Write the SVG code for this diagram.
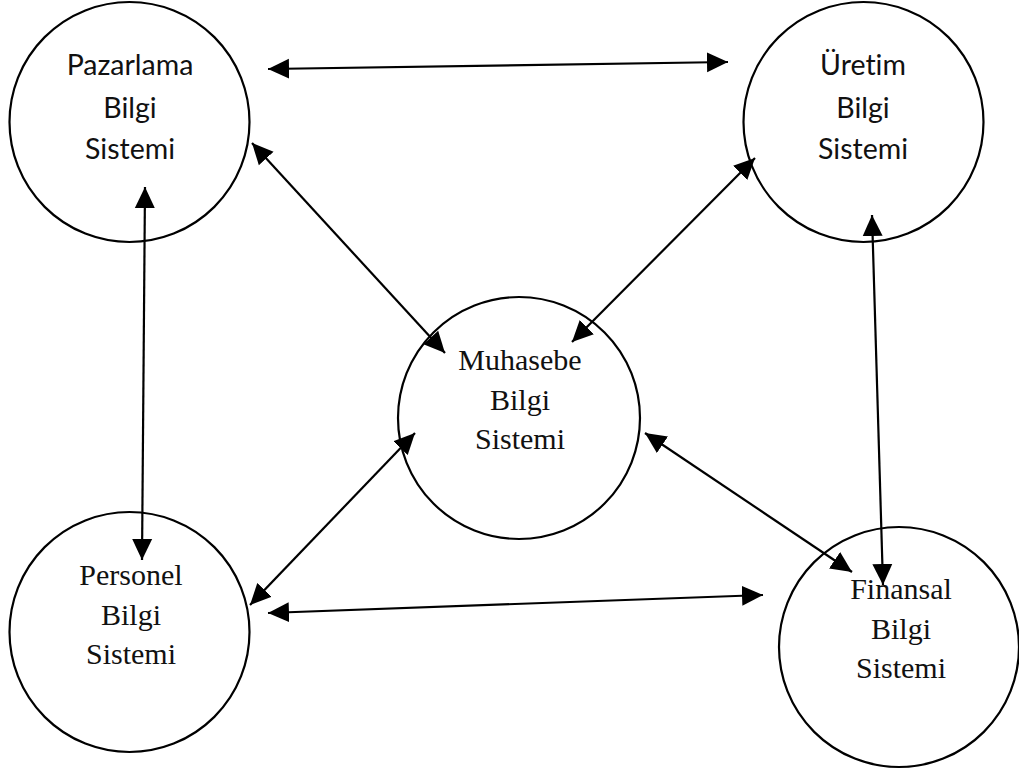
<svg xmlns="http://www.w3.org/2000/svg" width="1019" height="775" viewBox="0 0 1019 775">
  <style>
    .node circle { fill: #fff; stroke: #000; stroke-width: 2.2; }
    .sans { font-family: "Lato", "Open Sans", "Liberation Sans", sans-serif; font-size: 28.5px; fill: #111; text-anchor: middle; font-variant-ligatures: none; }
    .serif { font-family: "Liberation Serif", "DejaVu Serif", serif; font-size: 30px; fill: #111; text-anchor: middle; font-variant-ligatures: none; }
    .link { stroke: #000; stroke-width: 2.2; fill: none; marker-start: url(#head); marker-end: url(#head); }
  </style>
  <defs>
    <marker id="head" markerUnits="userSpaceOnUse" markerWidth="22" markerHeight="21" viewBox="0 0 22 21" refX="21" refY="10.5" orient="auto-start-reverse">
      <path d="M0,0.5 L21,10.5 L0,20.5 z" fill="#000"/>
    </marker>
  </defs>
  <rect width="1019" height="775" fill="#fff"/>

  <g id="pazarlama" class="node">
    <circle cx="129.5" cy="122" r="120"/>
    <text class="sans" x="130" y="75">Pazarlama</text>
    <text class="sans" x="130" y="118">Bilgi</text>
    <text class="sans" x="130" y="159">Sistemi</text>
  </g>

  <g id="uretim" class="node">
    <circle cx="863.5" cy="122" r="120"/>
    <text class="sans" x="863" y="75">Üretim</text>
    <text class="sans" x="863" y="118">Bilgi</text>
    <text class="sans" x="863" y="159">Sistemi</text>
  </g>

  <g id="muhasebe" class="node">
    <circle cx="519" cy="418" r="121"/>
    <text class="serif" x="520" y="370">Muhasebe</text>
    <text class="serif" x="520" y="410">Bilgi</text>
    <text class="serif" x="520" y="449">Sistemi</text>
  </g>

  <g id="personel" class="node">
    <circle cx="129.5" cy="632" r="120"/>
    <text class="serif" x="131" y="585">Personel</text>
    <text class="serif" x="131" y="625">Bilgi</text>
    <text class="serif" x="131" y="664">Sistemi</text>
  </g>

  <g id="finansal" class="node">
    <circle cx="899" cy="647" r="120"/>
    <text class="serif" x="901" y="599">Finansal</text>
    <text class="serif" x="901" y="639">Bilgi</text>
    <text class="serif" x="901" y="678">Sistemi</text>
  </g>

  <g id="connectors">
    <line class="link" x1="268" y1="69" x2="728" y2="62"/>
    <line class="link" x1="145" y1="187" x2="142" y2="560"/>
    <line class="link" x1="252" y1="143" x2="445" y2="353"/>
    <line class="link" x1="755" y1="158" x2="572" y2="342"/>
    <line class="link" x1="872" y1="215" x2="883" y2="585"/>
    <line class="link" x1="415" y1="433" x2="250" y2="605"/>
    <line class="link" x1="268" y1="613" x2="763" y2="595"/>
    <line class="link" x1="645" y1="433" x2="852" y2="572"/>
  </g>
</svg>
